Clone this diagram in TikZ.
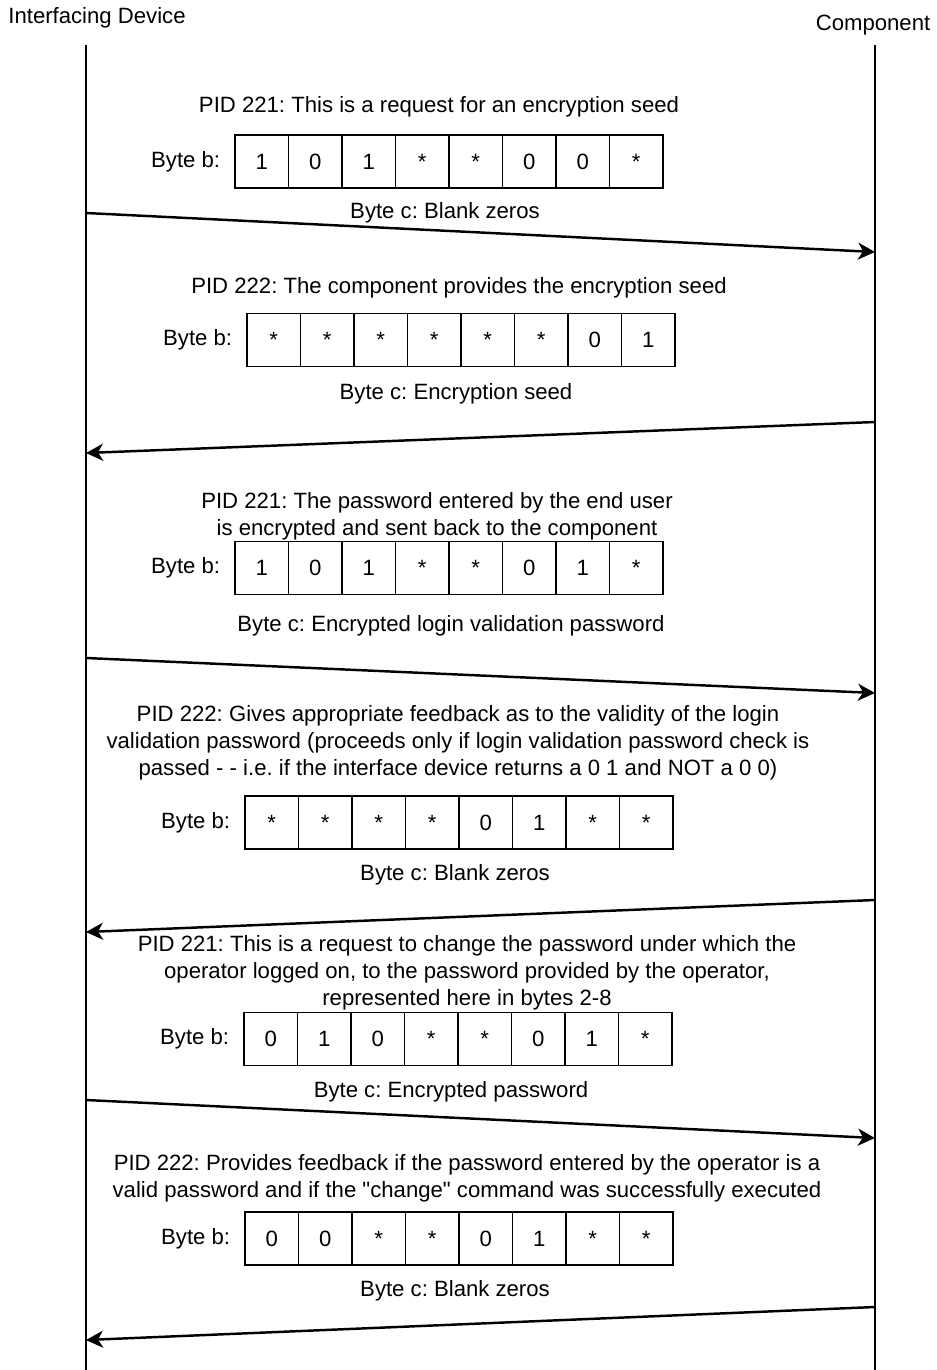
\documentclass[tikz,border=0pt]{standalone}
\usepackage{fontspec}
\setmainfont{Liberation Sans}[Ligatures=TeXOff]
\usetikzlibrary{arrows.meta, positioning}
\frenchspacing

\begin{document}
\begin{tikzpicture}[
  x=0.2mm, y=-0.2mm,
  font=\fontsize{12.6}{15.4}\selectfont,
  >={Stealth[length=3.4mm, width=3.4mm, inset=1mm]},
  life/.style={line width=1.1pt},
  msg/.style={->, line width=1.4pt},
  cell/.style={draw, line width=0.6pt, minimum width=10.7mm,
               minimum height=10.6mm, inner sep=0pt},
  txt/.style={align=center, inner sep=0pt},
  lbl/.style={inner sep=0pt},
]
\useasboundingbox (0,0) rectangle (937,1370);

% ======================= lifelines ======================================
\node[lbl] (dev)  at (97,18)  {Interfacing Device};
\node[lbl] (comp) at (873,25) {Component};
\coordinate (devtop)  at (86,45);
\coordinate (devbot)  at (86,1370);
\coordinate (comptop) at (875,45);
\coordinate (compbot) at (875,1370);
\draw[life] (devtop) -- (devbot);
\draw[life] (comptop) -- (compbot);

% ======================= messages =======================================
\node[txt] (t1) at (439,107) {PID 221: This is a request for an encryption seed};
\node[txt] (t2) at (459,288) {PID 222: The component provides the encryption seed};
\node[txt] (t3) at (437,516) {PID 221: The password entered by the end user\\
  is encrypted and sent back to the component};
\node[txt] (t4) at (458,743) {PID 222: Gives appropriate feedback as to the validity of the login\\
  validation password (proceeds only if login validation password check is\\
  passed - - i.e. if the interface device returns a 0 1 and NOT a 0 0)};
\node[txt] (t5) at (467,973) {PID 221: This is a request to change the password under which the\\
  operator logged on, to the password provided by the operator,\\
  represented here in bytes 2-8};
\node[txt] (t6) at (467,1178) {PID 222: Provides feedback if the password entered by the operator is a\\
  valid password and if the "change" command was successfully executed};

% byte b: one row of eight cells per message
\foreach \m/\bx/\by/\bits in {1/235/161.5/{1,0,1,*,*,0,0,*},
                              2/247/340/{*,*,*,*,*,*,0,1},
                              3/235/568/{1,0,1,*,*,0,1,*},
                              4/245/822.5/{*,*,*,*,0,1,*,*},
                              5/244/1039/{0,1,0,*,*,0,1,*},
                              6/245/1238.5/{0,0,*,*,0,1,*,*}} {
  \foreach \v [count=\k] in \bits {
    \node[cell] (b\m-\k) at ({\bx+53.5*(\k-0.5)},\by) {\v};
  }
  \node[lbl, left=2.8mm of b\m-1] (bb\m) {Byte b:};
}

% byte c
\node[txt] (c1) at (445,213)  {Byte c: Blank zeros};
\node[txt] (c2) at (456,394)  {Byte c: Encryption seed};
\node[txt] (c3) at (451,626)  {Byte c: Encrypted login validation password};
\node[txt] (c4) at (455,875)  {Byte c: Blank zeros};
\node[txt] (c5) at (451,1092) {Byte c: Encrypted password};
\node[txt] (c6) at (455,1291) {Byte c: Blank zeros};

% ======================= arrows =========================================
\foreach \m/\yl/\yr in {1/213/252, 2/453/422, 3/658/693,
                        4/932/900, 5/1100/1138, 6/1340/1307} {
  \coordinate (l\m) at (86,\yl);
  \coordinate (r\m) at (875,\yr);
}
\foreach \m in {1,3,5} \draw[msg] (l\m) -- (r\m);
\foreach \m in {2,4,6} \draw[msg] (r\m) -- (l\m);
\end{tikzpicture}
\end{document}
